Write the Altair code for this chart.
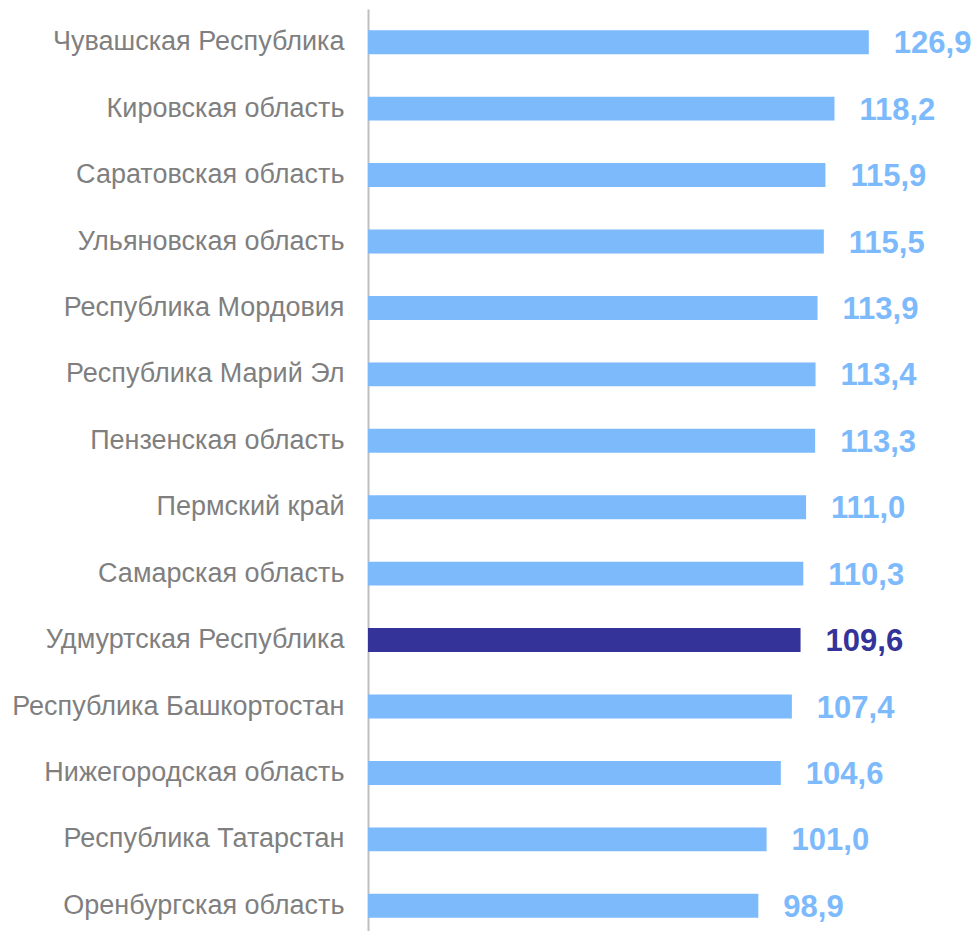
import altair as alt
import pandas as pd

regions = [
    "Чувашская Республика",
    "Кировская область",
    "Саратовская область",
    "Ульяновская область",
    "Республика Мордовия",
    "Республика Марий Эл",
    "Пензенская область",
    "Пермский край",
    "Самарская область",
    "Удмуртская Республика",
    "Республика Башкортостан",
    "Нижегородская область",
    "Республика Татарстан",
    "Оренбургская область",
]
values = [126.9, 118.2, 115.9, 115.5, 113.9, 113.4, 113.3, 111.0, 110.3, 109.6, 107.4, 104.6, 101.0, 98.9]
highlight = "Удмуртская Республика"

df = pd.DataFrame({
    "region": regions,
    "value": values,
    "label": [f"{v:.1f}".replace(".", ",") for v in values],
    "group": ["hl" if r == highlight else "other" for r in regions],
})

color_scale = alt.Scale(domain=["other", "hl"], range=["#7DBAFC", "#333399"])

y_enc = alt.Y("region:N", sort=regions, title=None,
              scale=alt.Scale(paddingInner=0.64, paddingOuter=0.32),
              axis=alt.Axis(domain=True, domainColor="#BFBFBF", domainWidth=2,
                            ticks=False, grid=False, labelColor="#7F7F7F",
                            labelFont="Liberation Sans", labelFontSize=27,
                            labelPadding=24, labelLimit=400))
x_enc = alt.X("value:Q", scale=alt.Scale(domain=[0, 150], nice=False), axis=None)

bars = alt.Chart(df).mark_bar().encode(
    y=y_enc, x=x_enc,
    color=alt.Color("group:N", scale=color_scale, legend=None),
)
text = alt.Chart(df).mark_text(align="left", baseline="middle", dx=25, dy=2,
                               font="Liberation Sans", fontWeight="bold", fontSize=31).encode(
    y=alt.Y("region:N", sort=regions), x="value:Q", text="label:N",
    color=alt.Color("group:N", scale=color_scale, legend=None),
)

chart = (bars + text).properties(
    width=592, height=930,
    autosize=alt.AutoSizeParams(type="none"),
    padding={"left": 360, "top": 1, "right": 12, "bottom": 0},
).configure_view(stroke=None)

chart.save("out.html", embed_options={"renderer": "svg", "actions": False})
